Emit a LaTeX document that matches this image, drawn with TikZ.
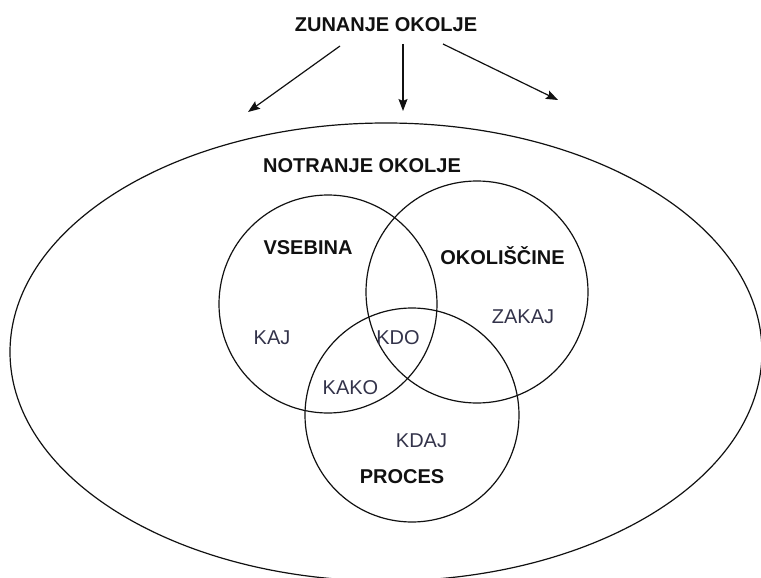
\documentclass[tikz,border=0pt]{standalone}
\usepackage{fontspec}
\setmainfont{Liberation Sans}
\usetikzlibrary{arrows.meta,shapes.geometric}
\definecolor{inkdark}{HTML}{111111}
\definecolor{inksoft}{HTML}{33334A}
\tikzset{
  ring/.style={draw=inkdark, line width=1.2pt, circle, inner sep=0pt, minimum size=#1},
  heading/.style={anchor=base, inner sep=0pt, text=inkdark, font=\fontsize{20}{24}\selectfont\bfseries},
  question/.style={anchor=base, inner sep=0pt, text=inksoft, font=\fontsize{20}{24}\selectfont},
  flow/.style={draw=inkdark, line width=1.2pt, -{Stealth[length=12pt,width=9pt,inset=2pt]}}
}
\begin{document}
\begin{tikzpicture}[x=1pt,y=-1pt]
  \useasboundingbox (0,0) rectangle (761,578);

  % outer environment
  \node[draw=inkdark, line width=1.2pt, ellipse, inner sep=0pt,
        minimum width=752pt, minimum height=458pt] (inner) at (386,352) {};

  % three overlapping areas
  \node[ring=218pt] (content) at (328,304) {};
  \node[ring=222pt] (circum)  at (477,292) {};
  \node[ring=214pt] (process) at (412,415) {};

  % titles
  \node[heading] (outer) at (386,32) {ZUNANJE OKOLJE};
  \node[heading] (innerlbl) at (362,172) {NOTRANJE OKOLJE};
  \node[heading] (vsebina) at (308,254) {VSEBINA};
  \node[heading] (okoliscine) at (502.5,264) {OKOLIŠČINE};
  \node[heading] (proces) at (402,483) {PROCES};

  % questions
  \node[question] (kaj) at (272,344) {KAJ};
  \node[question] (kdo) at (398,344) {KDO};
  \node[question] (kako) at (350.5,394) {KAKO};
  \node[question] (zakaj) at (523,323) {ZAKAJ};
  \node[question] (kdaj) at (421.5,447) {KDAJ};

  % influence arrows from the outer environment
  \coordinate (s1) at (340,46);
  \coordinate (s2) at (403,44);
  \coordinate (s3) at (443,44);
  \coordinate (t1) at (248,112);
  \coordinate (t2) at (403,111);
  \coordinate (t3) at (558,100);
  \draw[flow] (s1) -- (t1);
  \draw[flow] (s2) -- (t2);
  \draw[flow] (s3) -- (t3);
\end{tikzpicture}
\end{document}
